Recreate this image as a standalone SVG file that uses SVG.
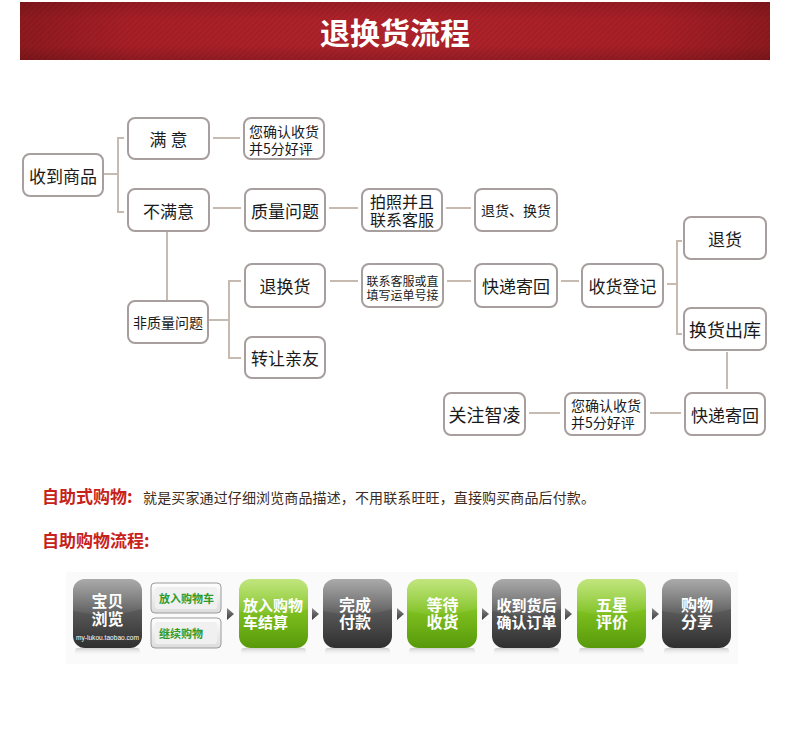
<svg xmlns="http://www.w3.org/2000/svg" width="790" height="738" viewBox="0 0 790 738">
<defs>
<style>
.box{fill:#fff;stroke:#a79e9e;stroke-width:2}
.t{font-family:"Noto Sans CJK SC","Noto Sans",sans-serif;fill:#1a1a1a;text-anchor:middle;dominant-baseline:central}
.ts{font-family:"Noto Sans CJK SC","Noto Sans",sans-serif;fill:#1a1a1a;dominant-baseline:central}
.c{stroke:#c6bab1;stroke-width:2;fill:none}
.wt{font-family:"Noto Sans CJK SC","Noto Sans",sans-serif;font-weight:bold;fill:#fff;dominant-baseline:central}
.gt{font-family:"Noto Sans CJK SC","Noto Sans",sans-serif;font-weight:bold;fill:#2e9b2a;font-size:11px;dominant-baseline:central}
.arr{fill:url(#arrg)}
.red{font-family:"Noto Sans CJK SC","Noto Sans",sans-serif;font-weight:bold;fill:#c7221a;font-size:17px}
</style>
<linearGradient id="hdr" x1="0" y1="0" x2="1" y2="0">
<stop offset="0" stop-color="#8e1a1f"/><stop offset="0.15" stop-color="#a91f27"/><stop offset="0.5" stop-color="#b0232b"/><stop offset="0.85" stop-color="#a91f27"/><stop offset="1" stop-color="#8e1a1f"/>
</linearGradient>
<linearGradient id="hdrv" x1="0" y1="0" x2="0" y2="1">
<stop offset="0" stop-color="#000" stop-opacity="0.12"/><stop offset="0.3" stop-color="#000" stop-opacity="0"/><stop offset="0.75" stop-color="#000" stop-opacity="0"/><stop offset="1" stop-color="#000" stop-opacity="0.15"/>
</linearGradient>
<pattern id="diag" width="4" height="4" patternUnits="userSpaceOnUse" patternTransform="rotate(45)">
<rect width="2" height="4" fill="#000" opacity="0.06"/>
</pattern>
<linearGradient id="green" x1="0" y1="0" x2="0" y2="1">
<stop offset="0" stop-color="#9fd83a"/><stop offset="0.45" stop-color="#7fc11f"/><stop offset="1" stop-color="#57990a"/>
</linearGradient>
<linearGradient id="dark" x1="0" y1="0" x2="0" y2="1">
<stop offset="0" stop-color="#7c7c7c"/><stop offset="0.45" stop-color="#5a5a5a"/><stop offset="1" stop-color="#2f2f2f"/>
</linearGradient>
<linearGradient id="gloss" x1="0" y1="0" x2="0" y2="1">
<stop offset="0" stop-color="#fff" stop-opacity="0.35"/><stop offset="1" stop-color="#fff" stop-opacity="0.05"/>
</linearGradient>
<linearGradient id="btn" x1="0" y1="0" x2="0" y2="1">
<stop offset="0" stop-color="#ffffff"/><stop offset="1" stop-color="#dcdcdc"/>
</linearGradient>
<linearGradient id="arrg" x1="0" y1="0" x2="0" y2="1">
<stop offset="0" stop-color="#8a8a8a"/><stop offset="1" stop-color="#3a3a3a"/>
</linearGradient>
<linearGradient id="shadow" x1="0" y1="0" x2="0" y2="1">
<stop offset="0" stop-color="#bbb" stop-opacity="0.7"/><stop offset="1" stop-color="#fff" stop-opacity="0"/>
</linearGradient>
</defs>

<rect width="790" height="738" fill="#fff"/>

<g id="header">
<rect x="20" y="2" width="750" height="58" fill="url(#hdr)"/>
<rect x="20" y="2" width="750" height="58" fill="url(#diag)"/>
<rect x="20" y="2" width="750" height="58" fill="url(#hdrv)"/>
<text x="395" y="31" class="wt" text-anchor="middle" font-size="30">退换货流程</text>
</g>

<g id="connectors">
<path class="c" d="M103 174H118M124 138H118V212H124"/>
<path class="c" d="M213 138H240"/>
<path class="c" d="M213 208H241"/>
<path class="c" d="M329 208H358"/>
<path class="c" d="M446 208H471"/>
<path class="c" d="M167 231V300"/>
<path class="c" d="M208 320H229M241 281H229V358H241"/>
<path class="c" d="M330 281H358"/>
<path class="c" d="M447 281H471"/>
<path class="c" d="M561 281H579"/>
<path class="c" d="M667 284H677M682 241H677V334H682"/>
<path class="c" d="M727 352V389"/>
<path class="c" d="M681 413H650"/>
<path class="c" d="M560 413H529"/>
</g>

<g id="n-received"><rect class="box" x="23" y="154" width="80" height="42" rx="7"/><text class="t" x="63" y="175" font-size="17">收到商品</text></g>
<g id="n-satisfied"><rect class="box" x="128" y="118" width="81" height="41" rx="7"/><text class="t" x="168.5" y="138.5" font-size="17">满 意</text></g>
<g id="n-confirm1"><rect class="box" x="244" y="118" width="80" height="41" rx="7"/><text class="ts" font-size="14"><tspan x="249" y="131">您确认收货</tspan><tspan x="249" y="148">并5分好评</tspan></text></g>
<g id="n-unsatisfied"><rect class="box" x="128" y="189" width="81" height="42" rx="7"/><text class="t" x="168.5" y="210" font-size="17">不满意</text></g>
<g id="n-quality"><rect class="box" x="245" y="189" width="80" height="42" rx="7"/><text class="t" x="285" y="210" font-size="17">质量问题</text></g>
<g id="n-photo"><rect class="box" x="362" y="189" width="80" height="42" rx="7"/><text class="t" font-size="16"><tspan x="402" y="200.5">拍照并且</tspan><tspan x="402" y="219">联系客服</tspan></text></g>
<g id="n-return-exchange"><rect class="box" x="475" y="189" width="82" height="42" rx="7"/><text class="t" x="516" y="210" font-size="14">退货、换货</text></g>
<g id="n-return"><rect class="box" x="684" y="217" width="82" height="42" rx="7"/><text class="t" x="725" y="238" font-size="17">退货</text></g>
<g id="n-nonquality"><rect class="box" x="128" y="301" width="80" height="42" rx="7"/><text class="t" x="168" y="322" font-size="14">非质量问题</text></g>
<g id="n-return2"><rect class="box" x="245" y="264" width="80" height="43" rx="7"/><text class="t" x="285" y="285.5" font-size="17">退换货</text></g>
<g id="n-contact"><rect class="box" x="362" y="264" width="81" height="43" rx="7"/><text class="t" font-size="12"><tspan x="402.5" y="279.5">联系客服或直</tspan><tspan x="402.5" y="293.5">填写运单号接</tspan></text></g>
<g id="n-express1"><rect class="box" x="475" y="264" width="82" height="43" rx="7"/><text class="t" x="516" y="285.5" font-size="17">快递寄回</text></g>
<g id="n-register"><rect class="box" x="582" y="264" width="81" height="43" rx="7"/><text class="t" x="622.5" y="285.5" font-size="17">收货登记</text></g>
<g id="n-outbound"><rect class="box" x="684" y="308" width="82" height="42" rx="7"/><text class="t" x="725" y="329" font-size="18">换货出库</text></g>
<g id="n-transfer"><rect class="box" x="245" y="337" width="80" height="41" rx="7"/><text class="t" x="285" y="357.5" font-size="17">转让亲友</text></g>
<g id="n-follow"><rect class="box" x="444" y="393" width="81" height="42" rx="7"/><text class="t" x="484.5" y="414" font-size="18">关注智凌</text></g>
<g id="n-confirm2"><rect class="box" x="565" y="393" width="80" height="42" rx="7"/><text class="ts" font-size="14"><tspan x="571" y="405">您确认收货</tspan><tspan x="571" y="422">并5分好评</tspan></text></g>
<g id="n-express2"><rect class="box" x="685" y="393" width="80" height="42" rx="7"/><text class="t" x="725" y="414" font-size="17">快递寄回</text></g>

<g id="self-service-text">
<text x="42" y="503" class="red">自助式购物:</text>
<text x="143" y="503" font-family="'Noto Sans CJK SC','Noto Sans',sans-serif" font-size="14" fill="#3b2b22" textLength="452" lengthAdjust="spacing">就是买家通过仔细浏览商品描述，不用联系旺旺，直接购买商品后付款。</text>
<text x="42" y="547" class="red">自助购物流程:</text>
</g>

<g id="shopping-flow">
<rect x="66" y="572" width="672" height="92" fill="#fafafa"/>
<g fill="url(#shadow)">
<rect x="75" y="648" width="65" height="8" rx="3"/>
<rect x="241" y="648" width="65" height="8" rx="3"/>
<rect x="325" y="648" width="65" height="8" rx="3"/>
<rect x="409" y="648" width="66" height="8" rx="3"/>
<rect x="494" y="648" width="65" height="8" rx="3"/>
<rect x="579" y="648" width="65" height="8" rx="3"/>
<rect x="664" y="648" width="65" height="8" rx="3"/>
</g>

<g id="s-browse" transform="translate(73,579)">
<rect width="69" height="69" rx="12" fill="url(#dark)"/>
<path d="M0 12A12 12 0 0 1 12 0H57A12 12 0 0 1 69 12V30Q35 40 0 32Z" fill="url(#gloss)"/>
<text class="wt" text-anchor="middle" font-size="16"><tspan x="34.5" y="21">宝贝</tspan><tspan x="34.5" y="39">浏览</tspan></text>
<text x="34.5" y="61" text-anchor="middle" font-family="'Liberation Sans',sans-serif" font-size="8" fill="#fff" textLength="63" lengthAdjust="spacingAndGlyphs">my-lukou.taobao.com</text>
</g>

<g id="s-buttons">
<rect x="151" y="583" width="70" height="30" rx="4" fill="url(#btn)" stroke="#9a9a9a"/>
<rect x="155" y="587" width="62" height="22" rx="3" fill="#f0f0f0"/>
<text class="gt" x="159" y="598">放入购物车</text>
<rect x="151" y="618" width="70" height="30" rx="4" fill="url(#btn)" stroke="#9a9a9a"/>
<rect x="155" y="622" width="62" height="22" rx="3" fill="#f0f0f0"/>
<text class="gt" x="159" y="633">继续购物</text>
</g>

<g id="arrows">
<polygon class="arr" points="227,608 234,614 227,620"/>
<polygon class="arr" points="312,608 319,614 312,620"/>
<polygon class="arr" points="397,608 404,614 397,620"/>
<polygon class="arr" points="482,608 489,614 482,620"/>
<polygon class="arr" points="565,608 572,614 565,620"/>
<polygon class="arr" points="652,608 659,614 652,620"/>
</g>

<g id="s-cart" transform="translate(239,579)">
<rect width="69" height="69" rx="12" fill="url(#green)"/>
<path d="M0 12A12 12 0 0 1 12 0H57A12 12 0 0 1 69 12V30Q35 40 0 32Z" fill="url(#gloss)"/>
<text class="wt" font-size="15"><tspan x="4" y="25">放入购物</tspan><tspan x="4" y="42">车结算</tspan></text>
</g>

<g id="s-pay" transform="translate(323,579)">
<rect width="69" height="69" rx="12" fill="url(#dark)"/>
<path d="M0 12A12 12 0 0 1 12 0H57A12 12 0 0 1 69 12V30Q35 40 0 32Z" fill="url(#gloss)"/>
<text class="wt" text-anchor="middle" font-size="16"><tspan x="32" y="25">完成</tspan><tspan x="32" y="42">付款</tspan></text>
</g>

<g id="s-wait" transform="translate(407,579)">
<rect width="70" height="69" rx="12" fill="url(#green)"/>
<path d="M0 12A12 12 0 0 1 12 0H58A12 12 0 0 1 70 12V30Q35 40 0 32Z" fill="url(#gloss)"/>
<text class="wt" text-anchor="middle" font-size="16"><tspan x="35.5" y="25">等待</tspan><tspan x="35.5" y="42">收货</tspan></text>
</g>

<g id="s-confirm" transform="translate(492,579)">
<rect width="69" height="69" rx="12" fill="url(#dark)"/>
<path d="M0 12A12 12 0 0 1 12 0H57A12 12 0 0 1 69 12V30Q35 40 0 32Z" fill="url(#gloss)"/>
<text class="wt" text-anchor="middle" font-size="15"><tspan x="34.5" y="25">收到货后</tspan><tspan x="34.5" y="42">确认订单</tspan></text>
</g>

<g id="s-rate" transform="translate(577,579)">
<rect width="69" height="69" rx="12" fill="url(#green)"/>
<path d="M0 12A12 12 0 0 1 12 0H57A12 12 0 0 1 69 12V30Q35 40 0 32Z" fill="url(#gloss)"/>
<text class="wt" text-anchor="middle" font-size="16"><tspan x="35" y="25">五星</tspan><tspan x="35" y="42">评价</tspan></text>
</g>

<g id="s-share" transform="translate(662,579)">
<rect width="69" height="69" rx="12" fill="url(#dark)"/>
<path d="M0 12A12 12 0 0 1 12 0H57A12 12 0 0 1 69 12V30Q35 40 0 32Z" fill="url(#gloss)"/>
<text class="wt" text-anchor="middle" font-size="16"><tspan x="35" y="25">购物</tspan><tspan x="35" y="42">分享</tspan></text>
</g>
</g>
</svg>
